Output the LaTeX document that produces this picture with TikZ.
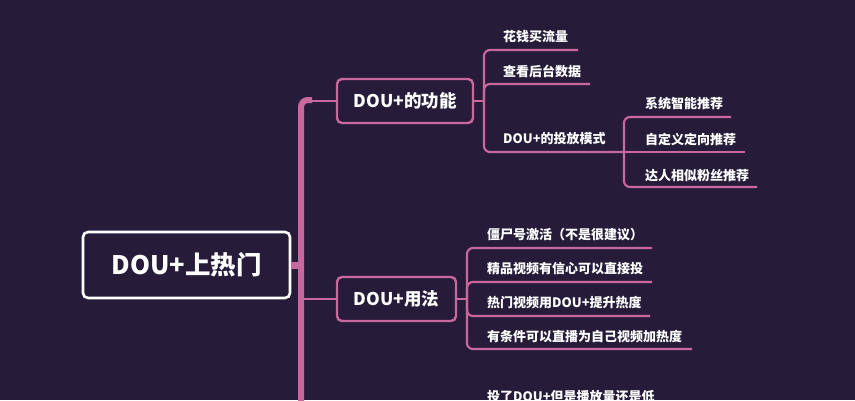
\documentclass[tikz,border=0pt]{standalone}
\usepackage{fontspec}
\setmainfont{Noto Sans CJK SC}
\definecolor{bg}{HTML}{261C3A}
\definecolor{pk}{HTML}{C8689C}
\tikzset{
  rootbox/.style={draw=white, line width=2.6pt, rounded corners=5pt, fill=bg, text=white,
    minimum width=207pt, minimum height=66pt, inner sep=0pt, font=\bfseries\fontsize{25.5}{28}\selectfont},
  midbox/.style={draw=pk, line width=2.4pt, rounded corners=5pt, fill=bg, text=white,
    minimum height=44pt, inner sep=0pt, font=\bfseries\fontsize{17.5}{20}\selectfont},
  leaf/.style={anchor=west, inner sep=0pt, text=white, font=\bfseries\fontsize{13}{15}\selectfont},
  branch/.style={draw=pk, line width=2.2pt, rounded corners=6pt},
  trunk/.style={draw=pk, line width=6pt, rounded corners=7pt},
}
\begin{document}
\begin{tikzpicture}[x=1pt,y=-1pt]
\useasboundingbox[fill=bg] (0,0) rectangle (855,400);
\clip (0,0) rectangle (855,400);
% trunk
\coordinate (tbot) at (301,410);
\coordinate (ttop) at (312,100);
\draw[trunk] (tbot) |- (ttop);
% boxes
\node[rootbox] (root) at (186.5,265) {DOU+上热门};
\node[midbox, minimum width=136pt] (func) at (405,101) {DOU+的功能};
\node[midbox, minimum width=119pt] (use) at (396.5,299) {DOU+用法};
\coordinate (trootj) at (301,265);
\draw[pk, line width=7pt] (root.east) -- (trootj);
\coordinate (tfunc) at (306,101);
\draw[branch] (tfunc) -- (func.west);
\coordinate (tuse) at (301,299);
\draw[branch] (tuse) -- (use.west);
% func children
\coordinate (jf) at (484,101);
\draw[branch] (func.east) -- (jf);
\node[leaf] (f1) at (503,37) {花钱买流量};
\node[leaf] (f2) at (503,71) {查看后台数据};
\node[leaf] (f3) at (503,139) {DOU+的投放模式};
\coordinate (f1e) at (578,50);
\coordinate (f2e) at (590,84);
\coordinate (jm) at (624,152);
\draw[branch] (jf) |- (f1e);
\draw[branch] (jf) |- (f2e);
\draw[branch] (jf) |- (jm);
% mode children
\node[leaf] (m1) at (645,104) {系统智能推荐};
\node[leaf] (m2) at (645,140) {自定义定向推荐};
\node[leaf] (m3) at (645,176) {达人相似粉丝推荐};
\coordinate (m1e) at (731,117);
\coordinate (m2e) at (745,152);
\coordinate (m3e) at (757,187);
\draw[branch] (jm) |- (m1e);
\draw[branch] (jm) -- (m2e);
\draw[branch] (jm) |- (m3e);
% use children
\coordinate (ju) at (467,299);
\draw[branch] (use.east) -- (ju);
\node[leaf] (u1) at (487,235) {僵尸号激活（不是很建议）};
\node[leaf] (u2) at (487,269) {精品视频有信心可以直接投};
\node[leaf] (u3) at (487,303) {热门视频用DOU+提升热度};
\node[leaf] (u4) at (487,337) {有条件可以直播为自己视频加热度};
\coordinate (u1e) at (652,248);
\coordinate (u2e) at (652,282);
\coordinate (u3e) at (650,316);
\coordinate (u4e) at (692,349);
\draw[branch] (ju) |- (u1e);
\draw[branch] (ju) |- (u2e);
\draw[branch] (ju) |- (u3e);
\draw[branch] (ju) |- (u4e);
% bottom (cut off)
\node[leaf] (b1) at (487,397) {投了DOU+但是播放量还是低};
\end{tikzpicture}
\end{document}
